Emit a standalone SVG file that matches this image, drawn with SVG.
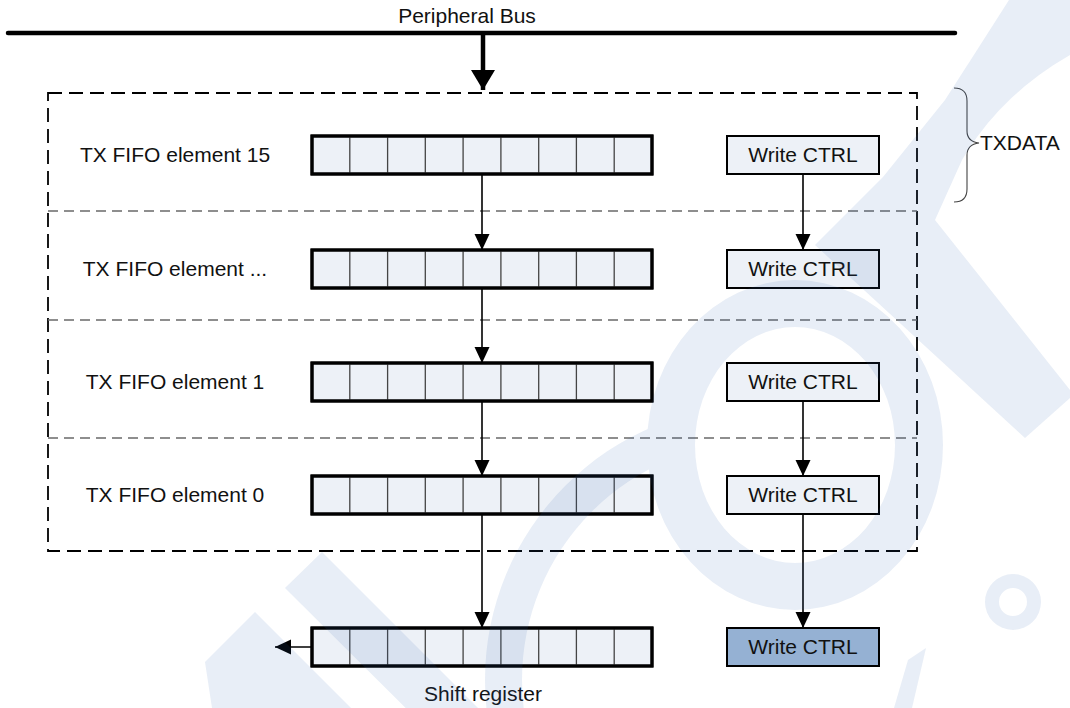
<svg xmlns="http://www.w3.org/2000/svg" width="1070" height="708" viewBox="0 0 1070 708">
  <defs>
    <style>
      .txt { font-family: "Liberation Sans", Arial, sans-serif; font-size: 21px; fill: #111; }
      .reg { fill: #edf1f7; stroke: #000; stroke-width: 3; }
      .cell { stroke: #444; stroke-width: 1.3; }
      .wc { fill: #edf1f7; stroke: #000; stroke-width: 2; }
      .wcdark { fill: #95b1d3; stroke: #000; stroke-width: 2; }
      .conn { stroke: #000; stroke-width: 1.6; fill: none; }
      .sep { stroke: #6a6a6a; stroke-width: 1.4; stroke-dasharray: 10 6; fill: none; }
    </style>
    <marker id="ah" markerUnits="userSpaceOnUse" markerWidth="17" markerHeight="16" refX="16" refY="7.5" orient="auto">
      <path d="M0,0 L16,7.5 L0,15 Z" fill="#000"/>
    </marker>
    <marker id="ahbig" markerUnits="userSpaceOnUse" markerWidth="22" markerHeight="26" refX="20" refY="12" orient="auto">
      <path d="M0,0 L20,12 L0,24 Z" fill="#000"/>
    </marker>
    <clipPath id="cclip"><rect x="0" y="0" width="688" height="708"/></clipPath>
    <g id="cells">
      <rect class="reg" x="0" y="0" width="340" height="38"/>
      <path class="cell" d="M37.8,0V38M75.6,0V38M113.3,0V38M151.1,0V38M188.9,0V38M226.7,0V38M264.4,0V38M302.2,0V38"/>
      <rect x="0" y="0" width="340" height="38" fill="none" stroke="#000" stroke-width="3"/>
    </g>
  </defs>

  <rect x="0" y="0" width="1070" height="708" fill="#fff"/>

  <!-- TX FIFO container -->
  <g id="txfifo-box">
    <rect x="48" y="93" width="869" height="458" fill="none" stroke="#000" stroke-width="1.8" stroke-dasharray="14 7"/>
    <line class="sep" x1="48" y1="211" x2="917" y2="211"/>
    <line class="sep" x1="48" y1="320" x2="917" y2="320"/>
    <line class="sep" x1="48" y1="438" x2="917" y2="438"/>
  </g>

  <!-- Peripheral bus -->
  <g id="bus">
    <line x1="8" y1="33" x2="955" y2="33" stroke="#000" stroke-width="4.5" stroke-linecap="round"/>
    <text class="txt" x="467" y="23" text-anchor="middle">Peripheral Bus</text>
  </g>

  <g id="row15">
    <text class="txt" x="175" y="162" text-anchor="middle">TX FIFO element 15</text>
    <use href="#cells" x="312" y="136"/>
  </g>
  <g id="wc15">
    <rect class="wc" x="727" y="136" width="152" height="38"/>
    <text class="txt" x="803" y="162" text-anchor="middle">Write CTRL</text>
  </g>

  <g id="rowN">
    <text class="txt" x="175" y="276" text-anchor="middle">TX FIFO element ...</text>
    <use href="#cells" x="312" y="250"/>
  </g>
  <g id="wcN">
    <rect class="wc" x="727" y="250" width="152" height="38"/>
    <text class="txt" x="803" y="276" text-anchor="middle">Write CTRL</text>
  </g>

  <g id="row1">
    <text class="txt" x="175" y="389" text-anchor="middle">TX FIFO element 1</text>
    <use href="#cells" x="312" y="363"/>
  </g>
  <g id="wc1">
    <rect class="wc" x="727" y="363" width="152" height="38"/>
    <text class="txt" x="803" y="389" text-anchor="middle">Write CTRL</text>
  </g>

  <g id="row0">
    <text class="txt" x="175" y="502" text-anchor="middle">TX FIFO element 0</text>
    <use href="#cells" x="312" y="476"/>
  </g>
  <g id="wc0">
    <rect class="wc" x="727" y="476" width="152" height="38"/>
    <text class="txt" x="803" y="502" text-anchor="middle">Write CTRL</text>
  </g>

  <g id="shift-register">
    <use href="#cells" x="312" y="628"/>
    <text class="txt" x="483" y="701" text-anchor="middle">Shift register</text>
  </g>
  <g id="wc-shift">
    <rect class="wcdark" x="727" y="628" width="152" height="38"/>
    <text class="txt" x="803" y="654" text-anchor="middle">Write CTRL</text>
  </g>

  <g id="txdata">
    <path d="M954,88 C963,88 967,92 967,101 L967,131 C967,138 971,142 979,143 C971,144 967,148 967,155 L967,189 C967,198 963,202 954,202" fill="none" stroke="#444" stroke-width="1.1"/>
    <text class="txt" x="980" y="150">TXDATA</text>
  </g>

  <!-- connectors -->
  <g id="connectors">
    <line x1="483" y1="35" x2="483" y2="90" stroke="#000" stroke-width="4.5" marker-end="url(#ahbig)"/>
    <line class="conn" x1="482" y1="174" x2="482" y2="250" marker-end="url(#ah)"/>
    <line class="conn" x1="482" y1="288" x2="482" y2="363" marker-end="url(#ah)"/>
    <line class="conn" x1="482" y1="401" x2="482" y2="476" marker-end="url(#ah)"/>
    <line class="conn" x1="482" y1="514" x2="482" y2="628" marker-end="url(#ah)"/>
    <line class="conn" x1="803" y1="174" x2="803" y2="250" marker-end="url(#ah)"/>
    <line class="conn" x1="803" y1="401" x2="803" y2="476" marker-end="url(#ah)"/>
    <line class="conn" x1="803" y1="514" x2="803" y2="628" marker-end="url(#ah)"/>
    <line class="conn" x1="312" y1="647" x2="275" y2="647" marker-end="url(#ah)"/>
  </g>

  <!-- faint watermark -->
  <g id="watermark" opacity="0.11" fill="#3366b3">
    <path fill-rule="evenodd" d="M647,445 a148,165 0 1,0 296,0 a148,165 0 1,0 -296,0 Z M695,445 a100,118 0 1,0 200,0 a100,118 0 1,0 -200,0 Z"/>
    <path clip-path="url(#cclip)" fill-rule="evenodd" d="M485,680 a275,275 0 1,0 550,0 a275,275 0 1,0 -550,0 Z M522,680 a238,238 0 1,0 476,0 a238,238 0 1,0 -476,0 Z"/>
    <path d="M815,245 L883,177 L945,100 L1009,0 L1070,0 L1070,55 Q1000,95 962,160 L935,220 L1070,390 L1070,398 L1025,438 Z"/>
    <path d="M285,588 L322,552 L500,730 L464,766 Z"/>
    <path d="M255,612 L351,708 L212,708 L205,662 Z"/>
    <path fill-rule="evenodd" d="M985,602 a28,28 0 1,0 56,0 a28,28 0 1,0 -56,0 Z M999,602 a14,14 0 1,0 28,0 a14,14 0 1,0 -28,0 Z"/>
    <path d="M908,660 L926,648 L912,708 L894,708 Z"/>
  </g>
</svg>
